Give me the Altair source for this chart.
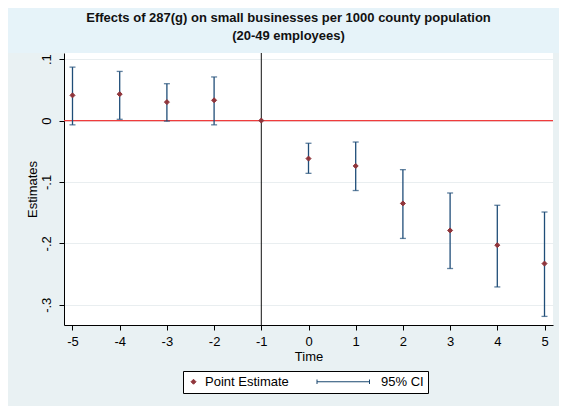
import altair as alt
import pandas as pd

# ---- data ----
time = [-5, -4, -3, -2, -1, 0, 1, 2, 3, 4, 5]
est = [0.041, 0.043, 0.030, 0.033, 0.0, -0.062, -0.074, -0.135, -0.179, -0.203, -0.233]
ci_lo = [-0.007, 0.002, -0.001, -0.007, None, -0.086, -0.114, -0.192, -0.241, -0.271, -0.319]
ci_hi = [0.087, 0.080, 0.060, 0.071, None, -0.037, -0.035, -0.080, -0.118, -0.138, -0.149]
series = ["Point Estimate", "95% CI"]
x_ticks = [-5, -4, -3, -2, -1, 0, 1, 2, 3, 4, 5]
y_ticks = [-0.3, -0.2, -0.1, 0.0, 0.1]
zero_line = [0.0]
event_line = [-1]

title_lines = ["Effects of 287(g) on small businesses per 1000 county population",
               "(20-49 employees)"]

# ---- styling ----
FONT = "Liberation Sans"
FS = 13
W, H = 489, 272
PAD = {"left": 56, "top": 45, "right": 6, "bottom": 81}
colors = ["#90353b", "#1a476f"]
shapes = ["diamond", "M-21,0H0M-21,-0.9V0.9M0,-0.9V0.9"]

df = pd.DataFrame({"time": time, "est": est, "lo": ci_lo, "hi": ci_hi,
                   "series": series[0]})

xscale = alt.Scale(domain=[-5.18, 5.18], nice=False, zero=False)
yscale = alt.Scale(domain=[-0.333, 0.11], nice=False, zero=False)

xaxis = alt.Axis(values=x_ticks, labelExpr="'' + datum.value", tickSize=5,
                 labelPadding=5, grid=False, title="Time", titlePadding=2,
                 labelFontSize=FS, titleFontSize=FS, titleFontWeight="normal",
                 labelColor="black", titleColor="black", domainColor="black",
                 tickColor="black", labelFlush=False)
yaxis = alt.Axis(values=y_ticks,
                 labelExpr="datum.value == 0 ? '0' : replace('' + datum.value, '0.', '.')",
                 labelAngle=270, labelAlign="center", labelBaseline="bottom",
                 tickSize=5, labelPadding=6, grid=True, gridColor="#e9eef0",
                 title="Estimates", titlePadding=1, labelFontSize=FS,
                 titleFontSize=FS, titleFontWeight="normal", labelColor="black",
                 titleColor="black", domainColor="black", tickColor="black")

band = alt.Chart(pd.DataFrame({"k": [0]})).mark_rect(color="#e6f3f9").encode(
    x=alt.value(-PAD["left"]), x2=alt.value(W + PAD["right"]),
    y=alt.value(-PAD["top"]), y2=alt.value(0))

hline = alt.Chart(pd.DataFrame({"y": zero_line})).mark_rule(
    color="#f03c3c", strokeWidth=1.3).encode(
    y=alt.Y("y:Q", scale=yscale, axis=yaxis))

vline = alt.Chart(pd.DataFrame({"x": event_line})).mark_rule(
    color="#111111", strokeWidth=1).encode(
    x=alt.X("x:Q", scale=xscale, axis=xaxis))

base = alt.Chart(df)
ci = base.transform_filter("isValid(datum.lo)")

rules = ci.mark_rule(color="#1f4d78", strokeWidth=1.3).encode(
    x=alt.X("time:Q", scale=xscale, axis=xaxis),
    y=alt.Y("lo:Q", scale=yscale, axis=yaxis),
    y2="hi:Q")
cap_lo = ci.mark_tick(orient="horizontal", size=6, thickness=1.3,
                      color="#1f4d78").encode(
    x=alt.X("time:Q", scale=xscale, axis=xaxis),
    y=alt.Y("lo:Q", scale=yscale, axis=yaxis))
cap_hi = ci.mark_tick(orient="horizontal", size=6, thickness=1.3,
                      color="#1f4d78").encode(
    x=alt.X("time:Q", scale=xscale, axis=xaxis),
    y=alt.Y("hi:Q", scale=yscale, axis=yaxis))

leg = alt.Legend(orient="none", legendX=119, legendY=318, direction="horizontal",
                 title=None, strokeColor="black", fillColor="white", padding=4,
                 labelFontSize=FS, labelColor="black", labelFont=FONT,
                 columnPadding=26, symbolStrokeWidth=1, labelOffset=5,
                 symbolSize=25, cornerRadius=0)

points = base.mark_point(filled=False, fill="#90353b", strokeWidth=1,
                         opacity=1, size=25).encode(
    x=alt.X("time:Q", scale=xscale, axis=xaxis),
    y=alt.Y("est:Q", scale=yscale, axis=yaxis),
    color=alt.Color("series:N", scale=alt.Scale(domain=series, range=colors), legend=leg),
    shape=alt.Shape("series:N", scale=alt.Scale(domain=series, range=shapes), legend=leg),
)

chart = alt.layer(band, hline, vline, rules, cap_lo, cap_hi, points).properties(
    width=W, height=H,
    autosize=alt.AutoSizeParams(type="none"),
    padding=PAD,
    title=alt.TitleParams(title_lines, fontSize=FS, fontWeight="bold",
                          anchor="middle", dx=-20, offset=-35, lineHeight=18,
                          color="#111111", font=FONT),
).configure(
    background="#e9f1f3",
    font=FONT,
).configure_view(
    stroke=None, fill="white"
)

chart.save("out.html", embed_options={"renderer": "svg", "actions": False})
